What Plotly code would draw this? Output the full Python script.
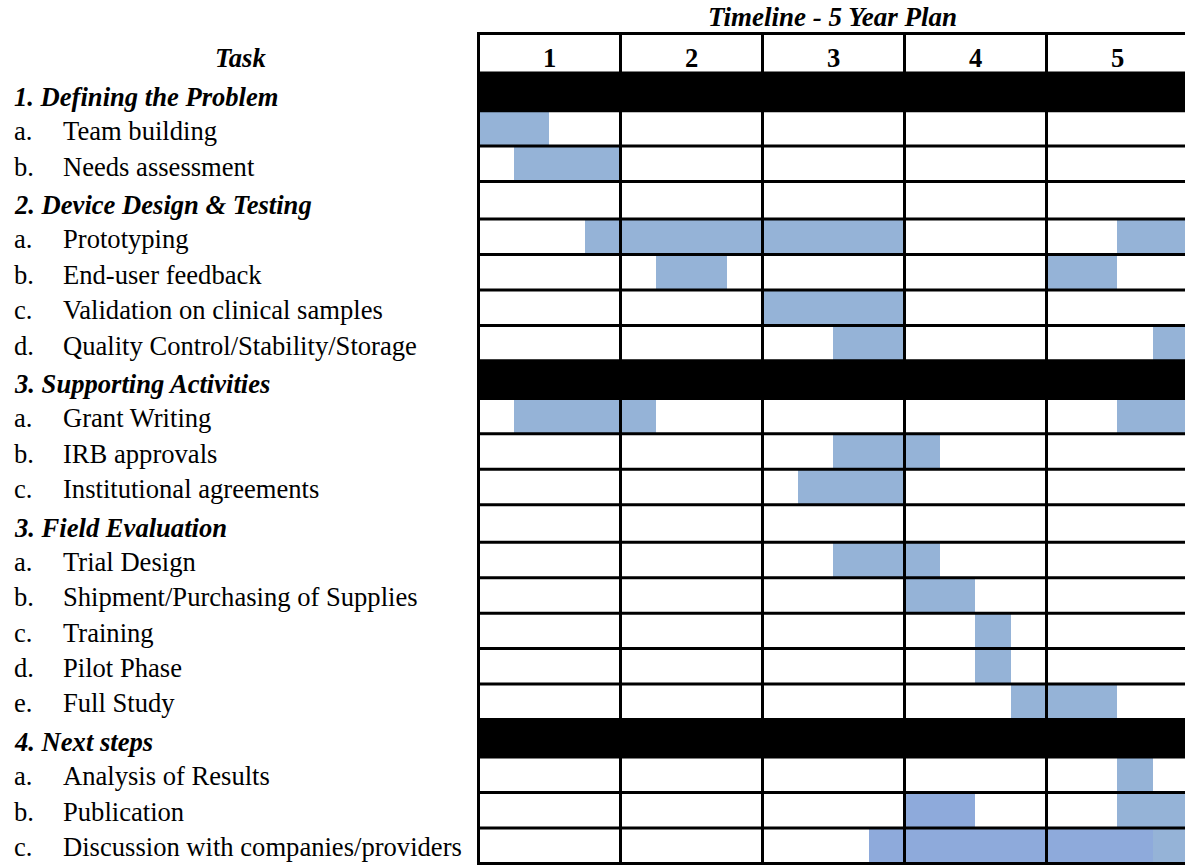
import plotly.graph_objects as go

# ---- data ---------------------------------------------------------------
year_labels = ["1", "2", "3", "4", "5"]

task_prefix = ["1.", "a.", "b.", "2.", "a.", "b.", "c.", "d.", "3.", "a.", "b.", "c.",
               "3.", "a.", "b.", "c.", "d.", "e.", "4.", "a.", "b.", "c."]
task_name = ["Defining the Problem", "Team building", "Needs assessment",
             "Device Design & Testing", "Prototyping", "End-user feedback",
             "Validation on clinical samples", "Quality Control/Stability/Storage",
             "Supporting Activities", "Grant Writing", "IRB approvals",
             "Institutional agreements", "Field Evaluation", "Trial Design",
             "Shipment/Purchasing of Supplies", "Training", "Pilot Phase", "Full Study",
             "Next steps", "Analysis of Results", "Publication",
             "Discussion with companies/providers"]

# section rows shaded as solid black bands
banded_sections = ["Defining the Problem", "Supporting Activities", "Next steps"]

# activity periods in years from project start (quarter resolution)
bar_task = ["Team building", "Needs assessment",
            "Prototyping", "Prototyping",
            "End-user feedback", "End-user feedback",
            "Validation on clinical samples",
            "Quality Control/Stability/Storage", "Quality Control/Stability/Storage",
            "Grant Writing", "Grant Writing",
            "IRB approvals", "Institutional agreements",
            "Trial Design", "Shipment/Purchasing of Supplies", "Training", "Pilot Phase",
            "Full Study", "Analysis of Results",
            "Publication", "Publication",
            "Discussion with companies/providers", "Discussion with companies/providers"]
bar_start = [0.0, 0.25, 0.75, 4.5, 1.25, 4.0, 2.0, 2.5, 4.75, 0.25, 4.5,
             2.5, 2.25, 2.5, 3.0, 3.5, 3.5, 3.75, 4.5, 3.0, 4.5, 2.75, 4.75]
bar_end = [0.5, 1.0, 3.0, 5.0, 1.75, 4.5, 3.0, 3.0, 5.0, 1.25, 5.0,
           3.25, 3.0, 3.25, 3.5, 3.75, 3.75, 4.5, 4.75, 3.5, 5.0, 4.75, 5.0]
bar_shade = ["A", "A", "A", "A", "A", "A", "A", "A", "A", "A", "A",
             "A", "A", "A", "A", "A", "A", "A", "A", "B", "A", "B", "A"]

# ---- styling ------------------------------------------------------------
W, H = 1185, 865
SERIF = "Liberation Serif, Times New Roman, serif"
FS = 26.6
shade_color = {"A": "#95B3D7", "B": "#8EAADB"}

px_per_year = 142.0
x0_px = 478.5                 # pixel position of year 0
x_lo = -0.03
x_hi = (W - x0_px) / px_per_year
dom_left = (x0_px + x_lo * px_per_year) / W

# table row heights (px): header, section rows and item rows
HEADER_H, SECTION_H, ITEM_H = 39.5, 37.5, 35.44
is_section = [p[0].isdigit() for p in task_prefix]
heights = [HEADER_H] + [SECTION_H if s else ITEM_H for s in is_section]
bounds = [0.0]
for h in heights:
    bounds.append(bounds[-1] + h)
centers = [(bounds[i] + bounds[i + 1]) / 2 for i in range(len(heights))]
total = bounds[-1]

top_px = 33.5                 # centre of top border line
pad_top, pad_bot = 3.6, 1.6
plot_top = top_px - pad_top
plot_bot = top_px + total + pad_bot

row_of = {name: i + 1 for i, name in enumerate(task_name)}

fig = go.Figure()

# black section bands
band_rows = [row_of[s] for s in banded_sections]
fig.add_trace(go.Bar(
    y=[centers[r] for r in band_rows], x=[5.0] * len(band_rows),
    base=[0.0] * len(band_rows), width=[heights[r] for r in band_rows],
    orientation="h", marker=dict(color="black", line=dict(width=0)),
    hoverinfo="skip", showlegend=False))

# activity bars, one trace per shade
for shade in ["A", "B"]:
    idx = [i for i, s in enumerate(bar_shade) if s == shade]
    rows = [row_of[bar_task[i]] for i in idx]
    fig.add_trace(go.Bar(
        y=[centers[r] for r in rows],
        x=[bar_end[i] - bar_start[i] for i in idx],
        base=[bar_start[i] for i in idx],
        width=[heights[r] for r in rows],
        orientation="h",
        marker=dict(color=shade_color[shade], line=dict(width=0)),
        showlegend=False))

# table grid drawn above the bars
shapes = []
for k in range(0, 5):
    shapes.append(dict(type="line", xref="x", yref="y", x0=k, x1=k,
                       y0=0, y1=total, layer="above",
                       line=dict(color="black", width=3)))
for b in bounds:
    shapes.append(dict(type="line", xref="x", yref="y", x0=-0.0105, x1=5.0,
                       y0=b, y1=b, layer="above",
                       line=dict(color="black", width=3)))

annotations = []
# year numbers in the header row
for k, lab in enumerate(year_labels):
    annotations.append(dict(xref="x", yref="y", x=k + 0.5, y=centers[0], text=lab,
                            showarrow=False, yshift=-5,
                            font=dict(family=SERIF, size=FS, color="black", weight="bold")))

# task column
annotations.append(dict(xref="paper", yref="y", x=240 / W, y=centers[0], text="Task",
                        showarrow=False, yshift=-5, xanchor="center",
                        font=dict(family=SERIF, size=FS, color="black",
                                  weight="bold", style="italic")))
for i, (pre, name) in enumerate(zip(task_prefix, task_name)):
    r = i + 1
    if is_section[i]:
        shift = -4.8 + 0.05 * r
        annotations.append(dict(xref="paper", yref="y", x=12 / W, y=centers[r],
                                text=f"{pre} {name}", showarrow=False,
                                xanchor="left", yshift=shift,
                                font=dict(family=SERIF, size=FS, color="black",
                                          weight="bold", style="italic")))
    else:
        shift = -3.0 + 0.08 * r
        annotations.append(dict(xref="paper", yref="y", x=12 / W, y=centers[r], text=pre,
                                showarrow=False, xanchor="left", yshift=shift,
                                font=dict(family=SERIF, size=FS, color="black")))
        annotations.append(dict(xref="paper", yref="y", x=61 / W, y=centers[r], text=name,
                                showarrow=False, xanchor="left", yshift=shift,
                                font=dict(family=SERIF, size=FS, color="black")))

# chart title above the timeline
annotations.append(dict(xref="paper", yref="paper", x=832 / W,
                        y=1 + (plot_top - 17) / (plot_bot - plot_top),
                        text="Timeline - 5 Year Plan", showarrow=False,
                        xanchor="center", yanchor="middle",
                        font=dict(family=SERIF, size=27, color="black",
                                  weight="bold", style="italic")))

fig.update_layout(
    width=W, height=H,
    margin=dict(l=0, r=0, t=plot_top, b=H - plot_bot, pad=0),
    paper_bgcolor="white", plot_bgcolor="white",
    barmode="overlay", bargap=0,
    shapes=shapes, annotations=annotations,
    xaxis=dict(domain=[dom_left, 1.0], range=[x_lo, x_hi], showgrid=False,
               zeroline=False, showticklabels=False, ticks="", fixedrange=True),
    yaxis=dict(range=[total + pad_bot, -pad_top], showgrid=False,
               zeroline=False, showticklabels=False, ticks="", fixedrange=True),
)

fig.write_html("out.html", config={"displayModeBar": False})
